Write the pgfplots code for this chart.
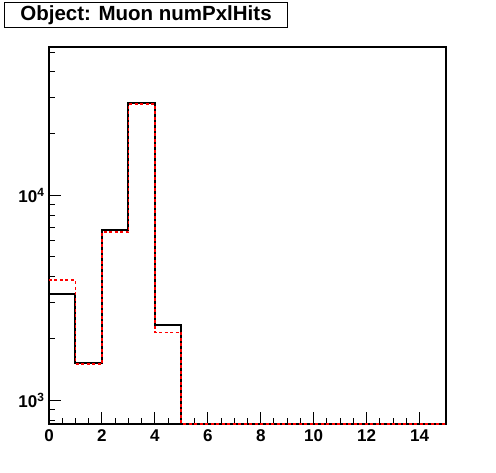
\documentclass[border=0pt]{standalone}
\usepackage{fontspec}
\setmainfont{Liberation Sans}
\usepackage{pgfplots}
\pgfplotsset{compat=1.18}
\newcommand{\tl}{\fontsize{17}{17}\selectfont\bfseries}
\begin{document}
\begin{tikzpicture}[x=1pt,y=1pt]
\useasboundingbox (-49,-48) rectangle (447,424);
\begin{axis}[at={(0,0)}, anchor=south west, scale only axis,
  width=397pt, height=377pt,
  xmin=0, xmax=15, ymode=log, ymin=766, ymax=52900,
  axis line style={line width=1.2pt},
  tick align=inside, xtick pos=lower, ytick pos=left,
  xtick={0,2,4,6,8,10,12,14},
  xticklabels={\tl 0,\tl 2,\tl 4,\tl 6,\tl 8,\tl 10,\tl 12,\tl 14},
  minor x tick num=3,
  ytick={1000,10000},
  yticklabels={\tl 10\textsuperscript{3},\tl 10\textsuperscript{4}},
  minor ytick={800,900,2000,3000,4000,5000,6000,7000,8000,9000,20000,30000,40000,50000},
  major tick length=12pt, minor tick length=6pt,
  every tick/.style={black, line width=1pt},
  /pgf/number format/assume math mode=true,
  xticklabel style={yshift=-2pt},
  yticklabel style={xshift=-1pt},
  clip=false]
\addplot[const plot, black, line width=2pt] coordinates
  {(0,3311) (1,1525) (2,6773) (3,28100) (4,2329) (5,766) (15,766)};
\addplot[const plot, red, line width=1.7pt, dash pattern=on 3pt off 2.5pt] coordinates
  {(0,3850) (1,1507) (2,6595) (3,27900) (4,2142) (5,766) (15,766)};
\end{axis}
\node[draw, line width=1pt, minimum width=282pt, minimum height=25pt, inner sep=0pt,
  font=\bfseries\fontsize{20.5}{20.5}\selectfont] at (97,408.5) {Object: Muon numPxlHits};
\end{tikzpicture}
\end{document}
